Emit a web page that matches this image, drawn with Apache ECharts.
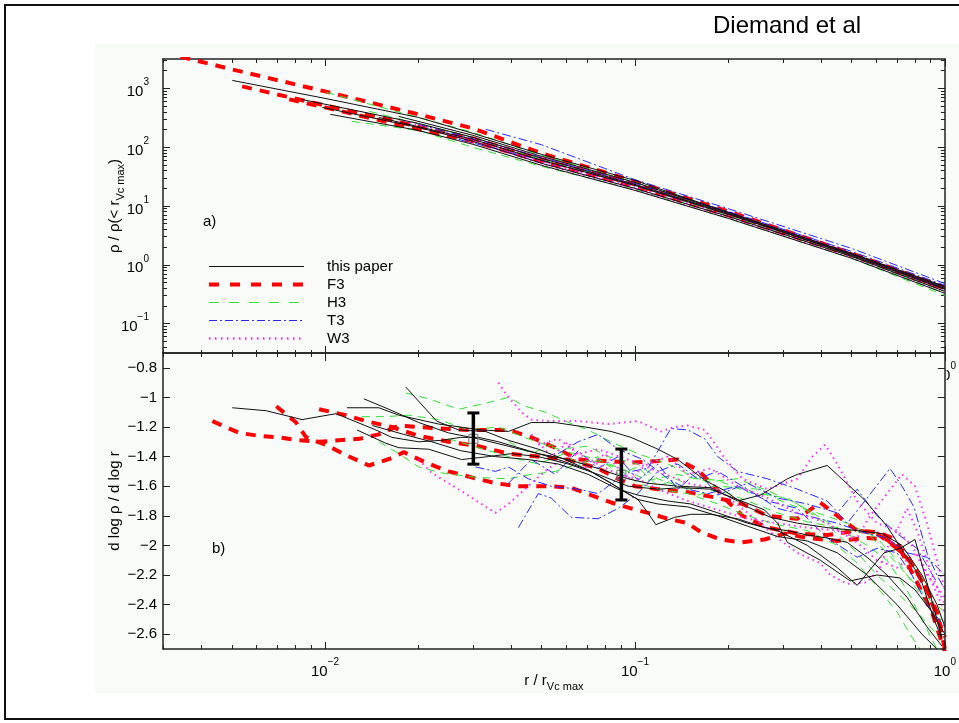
<!DOCTYPE html>
<html>
<head>
<meta charset="utf-8">
<script src="https://cdn.jsdelivr.net/npm/echarts@6/dist/echarts.min.js"></script>
<style>
  html, body { margin: 0; padding: 0; background: #ffffff; }
  #chart { width: 959px; height: 723px; }
</style>
</head>
<body>
<div id="chart"></div>
<script>
// ---- tick values ----
const xMajorTicks = [0.01, 0.1, 1];
const xMinorTicks = [0.003, 0.004, 0.005, 0.006, 0.007, 0.008, 0.009,
  0.02, 0.03, 0.04, 0.05, 0.06, 0.07, 0.08, 0.09,
  0.2, 0.3, 0.4, 0.5, 0.6, 0.7, 0.8, 0.9];
const rhoMajorTicks = [0.1, 1, 10, 100, 1000];
const rhoMinorTicks = [0.04, 0.05, 0.06, 0.07, 0.08, 0.09,
  0.2, 0.3, 0.4, 0.5, 0.6, 0.7, 0.8, 0.9,
  2, 3, 4, 5, 6, 7, 8, 9,
  20, 30, 40, 50, 60, 70, 80, 90,
  200, 300, 400, 500, 600, 700, 800, 900,
  2000, 3000];
const slopeTicks = [-2.6, -2.4, -2.2, -2, -1.8, -1.6, -1.4, -1.2, -1, -0.8];

const legendNames = ['this paper', 'F3', 'H3', 'T3', 'W3'];

// ---- panel a): density profiles, [r / r_Vcmax, rho / rho(<r_Vcmax)] ----
const densityThisPaper = [
  [[0.00502, 1368], [0.01, 676], [0.02, 321], [0.03, 172], [0.05, 75.5], [0.1, 27.2], [0.2, 7.78], [0.5, 1.56], [1, 0.43]],
  [[0.0098, 475], [0.02, 217], [0.03, 126], [0.05, 53.1], [0.1, 19.9], [0.2, 6.65], [0.5, 1.39], [1, 0.353]],
  [[0.0104, 362], [0.02, 193], [0.03, 112], [0.05, 49.1], [0.1, 18.4], [0.2, 6.15], [0.5, 1.29], [1, 0.327]],
  [[0.0084, 650], [0.02, 254], [0.03, 147], [0.05, 64.6], [0.1, 23.3], [0.2, 7.48], [0.5, 1.45], [1, 0.382]],
  [[0.0149, 321], [0.03, 136], [0.05, 59.7], [0.1, 22.4], [0.2, 7.19], [0.5, 1.5], [1, 0.397]],
  [[0.0173, 334], [0.03, 159], [0.05, 69.8], [0.1, 25.2], [0.2, 7.78], [0.5, 1.56], [1, 0.413]]
];
const densityF3 = [
  [[0.003, 4090], [0.00502, 2100], [0.01, 889], [0.02, 362], [0.03, 209], [0.05, 78.5], [0.1, 26.2], [0.2, 8.09], [0.5, 1.56], [1, 0.413]],
  [[0.0054, 1082], [0.01, 514], [0.02, 226], [0.03, 141], [0.05, 62.1], [0.1, 23.3], [0.2, 7.48], [0.5, 1.5], [1, 0.397]],
  [[0.00766, 650], [0.01, 475], [0.02, 201], [0.03, 126], [0.05, 57.4], [0.1, 21.5], [0.2, 6.92], [0.5, 1.45], [1, 0.382]]
];
const densityH3 = [
  [[0.0101, 855], [0.02, 321], [0.03, 179], [0.05, 72.6], [0.1, 25.2], [0.2, 7.48], [0.5, 1.45], [1, 0.353]],
  [[0.0122, 275], [0.02, 193], [0.03, 99.3], [0.05, 47.2], [0.1, 19.1], [0.2, 6.15], [0.5, 1.29], [1, 0.302]],
  [[0.0139, 407], [0.03, 147], [0.05, 62.1], [0.1, 22.4], [0.2, 6.92], [0.5, 1.39], [1, 0.327]]
];
const densityT3 = [
  [[0.033, 201], [0.05, 110], [0.1, 28], [0.2, 9], [0.5, 1.9], [1, 0.48]],
  [[0.02, 244], [0.03, 141], [0.05, 67.1], [0.1, 24.2], [0.2, 8.09], [0.5, 1.69], [1, 0.447]],
  [[0.027, 136], [0.05, 59.7], [0.1, 22.4], [0.2, 7.48], [0.5, 1.56], [1, 0.413]]
];
const densityW3 = [
  [[0.0173, 297], [0.03, 126], [0.05, 53.1], [0.1, 19.1], [0.2, 6.4], [0.5, 1.34], [1, 0.353]],
  [[0.025, 165], [0.05, 57.4], [0.1, 20.7], [0.2, 6.92], [0.5, 1.45], [1, 0.382]],
  [[0.029, 147], [0.05, 67.1], [0.1, 23.3], [0.2, 7.78], [0.5, 1.56], [1, 0.397]]
];

// ---- panel b): logarithmic slopes, [r / r_Vcmax, d log rho / d log r] ----
const slopeThisPaper = [
  [[0.00502, -1.07], [0.00646, -1.09], [0.00843, -1.15], [0.01085, -1.11], [0.01459, -1.22], [0.01642, -1.27], [0.02006, -1.30], [0.02378, -1.29], [0.02738, -1.27], [0.03128, -1.27], [0.03627, -1.30], [0.04529, -1.36], [0.05655, -1.42], [0.07063, -1.49], [0.08373, -1.58], [0.1022, -1.69], [0.1101, -1.78], [0.1168, -1.86], [0.1344, -1.81], [0.1514, -1.79], [0.1755, -1.79], [0.2144, -1.82], [0.2618, -1.88], [0.3104, -1.90], [0.3599, -1.93], [0.4174, -1.95], [0.4841, -1.98], [0.5612, -2.08], [0.6506, -2.20], [0.7547, -2.35], [0.8753, -2.55], [0.9781, -2.68]],
  [[0.01822, -0.93], [0.02291, -1.16], [0.02698, -1.22], [0.03294, -1.23], [0.03905, -1.29], [0.04877, -1.35], [0.05955, -1.42], [0.07063, -1.49], [0.08373, -1.58], [0.09286, -1.64], [0.1022, -1.69], [0.1186, -1.72], [0.1481, -1.74], [0.1849, -1.80], [0.2309, -1.87], [0.2884, -1.94], [0.3599, -1.97], [0.4495, -2.05], [0.5612, -2.20], [0.7008, -2.40], [0.8433, -2.60], [0.9425, -2.70]],
  [[0.01177, -1.07], [0.01492, -1.07], [0.0173, -1.12], [0.02326, -1.18], [0.03198, -1.22], [0.03905, -1.23], [0.0463, -1.17], [0.05532, -1.17], [0.06907, -1.20], [0.08373, -1.23], [0.09708, -1.27], [0.1186, -1.35], [0.1375, -1.42], [0.168, -1.56], [0.1947, -1.63], [0.2309, -1.74], [0.2737, -1.81], [0.3343, -1.85], [0.4174, -1.88], [0.5212, -1.90], [0.6271, -1.92], [0.7272, -2.00], [0.8433, -2.20], [0.9425, -2.40], [1, -2.55]],
  [[0.01335, -1.01], [0.01606, -1.08], [0.02006, -1.17], [0.02505, -1.24], [0.03128, -1.28], [0.03905, -1.33], [0.04877, -1.38], [0.0609, -1.42], [0.07604, -1.48], [0.09495, -1.55], [0.1101, -1.58], [0.1375, -1.60], [0.1755, -1.61], [0.2144, -1.70], [0.2542, -1.66], [0.3104, -1.55], [0.3343, -1.52], [0.4174, -1.46], [0.549, -1.69], [0.6506, -1.87], [0.7381, -2.05], [0.831, -2.21], [0.9218, -2.50], [0.9781, -2.63]],
  [[0.01268, -1.22], [0.01571, -1.31], [0.0173, -1.34], [0.0216, -1.35], [0.02758, -1.42], [0.03367, -1.40], [0.03993, -1.38], [0.04877, -1.40], [0.0609, -1.45], [0.07604, -1.52], [0.09495, -1.60], [0.1186, -1.62], [0.1405, -1.61], [0.1755, -1.62], [0.2144, -1.69], [0.2618, -1.76], [0.2884, -1.85], [0.3104, -1.98], [0.3963, -2.10], [0.4949, -2.24], [0.6043, -2.20], [0.7165, -2.22], [0.8008, -2.30], [0.9083, -2.45], [1, -2.60]],
  [[0.0142, -1.19], [0.01795, -1.25], [0.02208, -1.30], [0.02738, -1.36], [0.03547, -1.40], [0.04529, -1.42], [0.05655, -1.45], [0.07063, -1.52], [0.08817, -1.62], [0.1022, -1.66], [0.1276, -1.70], [0.1514, -1.72], [0.1849, -1.78], [0.2309, -1.85], [0.2884, -1.90], [0.3599, -2.00], [0.4495, -2.15], [0.5212, -2.27], [0.6364, -2.05], [0.7165, -2.02], [0.8008, -1.96], [0.8753, -2.25], [0.9425, -2.50], [0.9781, -2.62]]
];
const slopeF3 = [
  [[0.00433, -1.16], [0.00529, -1.24], [0.00613, -1.26], [0.00712, -1.27], [0.00825, -1.29], [0.00957, -1.30], [0.0111, -1.29], [0.0129, -1.28], [0.0149, -1.25], [0.0173, -1.19], [0.0233, -1.21], [0.029, -1.22], [0.0391, -1.22], [0.0463, -1.27], [0.0553, -1.34], [0.0656, -1.42], [0.0801, -1.43], [0.0971, -1.44], [0.1186, -1.43], [0.1375, -1.42], [0.1595, -1.49], [0.1781, -1.59], [0.1962, -1.69], [0.2225, -1.80], [0.2677, -1.88], [0.3343, -1.92], [0.4174, -1.93], [0.5212, -1.90], [0.6043, -1.92], [0.7008, -2.02], [0.7832, -2.12], [0.8753, -2.30], [1, -2.62]],
  [[0.00957, -1.08], [0.01168, -1.12], [0.01355, -1.16], [0.01642, -1.20], [0.02006, -1.26], [0.02505, -1.30], [0.03128, -1.33], [0.03905, -1.38], [0.04877, -1.40], [0.0609, -1.42], [0.07604, -1.48], [0.08817, -1.55], [0.1, -1.60], [0.1186, -1.62], [0.1481, -1.64], [0.1849, -1.68], [0.2225, -1.72], [0.2677, -1.80], [0.3343, -1.82], [0.3963, -1.71], [0.4495, -1.80], [0.5212, -1.90], [0.6043, -1.91], [0.6754, -1.95], [0.7272, -2.03], [0.7949, -2.15], [0.8753, -2.30], [0.9425, -2.45], [1, -2.70]],
  [[0.00696, -1.06], [0.00807, -1.17], [0.00869, -1.27], [0.01007, -1.32], [0.01168, -1.39], [0.01385, -1.46], [0.01642, -1.41], [0.01795, -1.37], [0.02113, -1.44], [0.02505, -1.50], [0.0297, -1.54], [0.03547, -1.58], [0.04205, -1.60], [0.05252, -1.60], [0.06226, -1.61], [0.07222, -1.66], [0.08373, -1.71], [0.09708, -1.75], [0.1101, -1.78], [0.1277, -1.82], [0.1481, -1.85], [0.163, -1.91], [0.189, -1.96], [0.2192, -1.98], [0.2618, -1.96], [0.3036, -1.92], [0.3599, -1.95], [0.4495, -1.97], [0.5612, -1.95], [0.6506, -1.96], [0.7272, -2.05], [0.8128, -2.25], [0.9083, -2.45], [1, -2.72]]
];
const slopeH3 = [
  [[0.01822, -0.97], [0.0216, -1.01], [0.02698, -1.08], [0.03294, -1.04], [0.03905, -1.00], [0.04429, -1.06], [0.05136, -1.10], [0.05955, -1.16], [0.07063, -1.22], [0.08373, -1.30], [0.1022, -1.38], [0.1277, -1.45], [0.1595, -1.55], [0.1849, -1.56], [0.2309, -1.64], [0.3104, -1.68], [0.3877, -1.80], [0.4841, -1.92], [0.5612, -2.00], [0.6506, -2.10], [0.7547, -2.30], [0.8433, -2.50], [0.9425, -2.70]],
  [[0.01492, -1.30], [0.0173, -1.38], [0.02006, -1.47], [0.02378, -1.51], [0.03059, -1.54], [0.03905, -1.55], [0.0463, -1.52], [0.05532, -1.50], [0.06557, -1.45], [0.07604, -1.43], [0.08817, -1.48], [0.1022, -1.58], [0.1186, -1.62], [0.1481, -1.65], [0.1849, -1.72], [0.2309, -1.80], [0.2884, -1.86], [0.3599, -1.90], [0.4495, -2.00], [0.5212, -2.12], [0.6043, -2.28], [0.7008, -2.45], [0.7832, -2.62], [0.8433, -2.72]],
  [[0.01315, -1.13], [0.01571, -1.13], [0.01862, -1.12], [0.02326, -1.15], [0.02904, -1.22], [0.03627, -1.20], [0.04529, -1.28], [0.05655, -1.35], [0.07063, -1.33], [0.08189, -1.40], [0.1022, -1.45], [0.1186, -1.55], [0.1481, -1.62], [0.1849, -1.60], [0.2486, -1.62], [0.3104, -1.72], [0.3877, -1.78], [0.4841, -1.85], [0.6043, -1.95], [0.7008, -2.10], [0.8128, -2.30], [0.9083, -2.45], [1, -2.52]],
  [[0.02505, -1.28], [0.03128, -1.34], [0.03905, -1.40], [0.04877, -1.45], [0.0609, -1.37], [0.07604, -1.42], [0.09495, -1.50], [0.1101, -1.56], [0.1375, -1.52], [0.1717, -1.57], [0.2144, -1.55], [0.2677, -1.63], [0.3343, -1.72], [0.4174, -1.86], [0.5212, -2.05], [0.6043, -2.20], [0.7008, -2.32], [0.8128, -2.45], [0.9425, -2.60]],
  [[0.0391, -1.30], [0.0463, -1.38], [0.0537, -1.32], [0.0656, -1.45], [0.076, -1.40], [0.0882, -1.52], [0.1022, -1.47], [0.1186, -1.60], [0.1375, -1.55], [0.1595, -1.66], [0.1849, -1.62], [0.2309, -1.70], [0.2884, -1.78], [0.3599, -1.84], [0.4495, -1.88], [0.5612, -1.92], [0.6506, -2.05], [0.7547, -2.20], [0.8753, -2.35], [1, -2.45]]
];
const slopeT3 = [
  [[0.03059, -1.47], [0.03547, -1.50], [0.03905, -1.47], [0.04529, -1.55], [0.0537, -1.60], [0.06557, -1.62], [0.07604, -1.65], [0.08817, -1.55], [0.09708, -1.50], [0.1101, -1.48], [0.1305, -1.21], [0.1481, -1.22], [0.168, -1.28], [0.1849, -1.40], [0.2144, -1.50], [0.2677, -1.55], [0.3343, -1.62], [0.4174, -1.70], [0.4841, -1.85], [0.5612, -1.68], [0.6652, -1.48], [0.7272, -1.60], [0.7949, -1.74], [0.8753, -2.05], [0.9425, -2.20], [1, -2.30]],
  [[0.04205, -1.88], [0.04877, -1.65], [0.0537, -1.68], [0.06226, -1.81], [0.07604, -1.82], [0.08817, -1.75], [0.1022, -1.65], [0.1186, -1.50], [0.1375, -1.45], [0.1595, -1.55], [0.1849, -1.50], [0.2309, -1.62], [0.2884, -1.75], [0.3599, -1.80], [0.4495, -1.85], [0.5612, -1.92], [0.6506, -1.95], [0.7547, -2.05], [0.8753, -2.08], [1, -2.20]],
  [[0.05655, -1.38], [0.06557, -1.30], [0.07604, -1.25], [0.08817, -1.35], [0.1061, -1.42], [0.1277, -1.55], [0.1481, -1.62], [0.1717, -1.65], [0.2144, -1.60], [0.2677, -1.70], [0.3343, -1.75], [0.4174, -1.95], [0.5212, -2.08], [0.6043, -2.02], [0.7008, -2.05], [0.7832, -2.20], [0.8753, -2.40], [1, -2.55]],
  [[0.0391, -1.58], [0.0463, -1.42], [0.0553, -1.52], [0.0656, -1.36], [0.076, -1.48], [0.0882, -1.40], [0.1022, -1.56], [0.1186, -1.45], [0.1375, -1.62], [0.1595, -1.50], [0.1849, -1.66], [0.2309, -1.58], [0.2884, -1.68], [0.3599, -1.72], [0.4495, -1.78], [0.5212, -1.62], [0.6043, -1.80], [0.7008, -1.92], [0.8128, -2.02], [0.9425, -2.25]]
];
const slopeW3 = [
  [[0.03627, -0.90], [0.03819, -0.97], [0.03993, -1.02], [0.04299, -1.10], [0.0463, -1.15], [0.05252, -1.16], [0.06557, -1.16], [0.08189, -1.18], [0.1022, -1.16], [0.1212, -1.23], [0.1344, -1.20], [0.1481, -1.19], [0.168, -1.22], [0.1781, -1.29], [0.1947, -1.41], [0.2225, -1.55], [0.2677, -1.62], [0.3343, -1.55], [0.3735, -1.40], [0.4112, -1.32], [0.4495, -1.45], [0.5212, -1.70], [0.6043, -1.85], [0.7008, -1.90], [0.7832, -2.00], [0.8753, -2.20], [1, -2.35]],
  [[0.02006, -1.42], [0.02208, -1.51], [0.02505, -1.58], [0.02841, -1.65], [0.03198, -1.72], [0.03547, -1.78], [0.03905, -1.72], [0.04529, -1.60], [0.05252, -1.48], [0.0609, -1.40], [0.07604, -1.35], [0.09495, -1.42], [0.1186, -1.50], [0.1481, -1.58], [0.1849, -1.62], [0.2309, -1.78], [0.2884, -1.95], [0.3343, -2.05], [0.3963, -2.12], [0.4267, -2.20], [0.4841, -2.26], [0.5612, -2.25], [0.618, -2.15], [0.6506, -2.02], [0.7008, -1.90], [0.7547, -1.75], [0.8128, -1.90], [0.9083, -2.20], [1, -2.40]],
  [[0.04877, -1.32], [0.05655, -1.28], [0.06557, -1.38], [0.07604, -1.45], [0.08817, -1.52], [0.1022, -1.55], [0.1186, -1.62], [0.1481, -1.70], [0.1849, -1.76], [0.2309, -1.82], [0.2884, -1.85], [0.3599, -1.88], [0.4495, -1.90], [0.5212, -1.95], [0.5739, -1.80], [0.6506, -1.65], [0.7272, -1.52], [0.8008, -1.60], [0.8753, -1.85], [0.9425, -2.10], [1, -2.30]],
  [[0.0463, -1.25], [0.0537, -1.40], [0.0609, -1.30], [0.07, -1.48], [0.08, -1.38], [0.095, -1.55], [0.1101, -1.45], [0.1276, -1.40], [0.1481, -1.52], [0.1755, -1.48], [0.2144, -1.60], [0.2677, -1.68], [0.3343, -1.78], [0.4174, -1.85], [0.5212, -1.98], [0.6043, -2.10], [0.7008, -2.15], [0.8128, -2.05], [0.9083, -2.25], [1, -2.45]]
];

// scatter of the slope at two radii: [r, mean, upper, lower]
const slopeErrorBars = [
  [0.0301, -1.28, -1.105, -1.451],
  [0.0904, -1.523, -1.349, -1.693]
];

// ---- styling ----
const FONT = 'Liberation Sans, Arial, Helvetica, sans-serif';
const AXIS_COLOR = '#222';
const PANEL_BG = '#f9fbf9';
const lineStyles = {
  'this paper': { color: '#111111', width: 1, type: 'solid' },
  'F3': { color: '#ff0000', width: 4, type: [10, 8] },
  'H3': { color: '#33e033', width: 1, type: [8, 6] },
  'T3': { color: '#2a2aff', width: 1, type: [9, 3, 2, 3] },
  'W3': { color: '#ff2aff', width: 2, type: [1.5, 4] }
};
const legendLineStyles = {
  'this paper': { width: 1, type: 'solid' },
  'F3': { width: 4, type: [10, 11] },
  'H3': { width: 1, type: [10, 10] },
  'T3': { width: 1.2, type: [8, 3, 2, 3] },
  'W3': { width: 2.5, type: [1.5, 4.5] }
};
const drawOrder = ['F3', 'H3', 'T3', 'W3', 'this paper'];
const densityGroups = { 'this paper': densityThisPaper, 'F3': densityF3, 'H3': densityH3, 'T3': densityT3, 'W3': densityW3 };
const slopeGroups = { 'this paper': slopeThisPaper, 'F3': slopeF3, 'H3': slopeH3, 'T3': slopeT3, 'W3': slopeW3 };

const sup = v => {
  const e = Math.round(Math.log10(v));
  return '{b|10}{s|' + (e < 0 ? '\u2212' + (-e) : e) + '}';
};
const powRich = {
  b: { fontFamily: FONT, fontSize: 15, color: '#000', lineHeight: 22, verticalAlign: 'bottom' },
  s: { fontFamily: FONT, fontSize: 10, color: '#000', lineHeight: 22, verticalAlign: 'top' }
};

// log x axis pieces for one panel: major / minor ticks on bottom and top edges
function xAxesFor(grid, bottomLen, topLen, labelValues, z) {
  const base = {
    type: 'log', logBase: 10, gridIndex: grid, min: 0.003, max: 1, z: z,
    splitLine: { show: false }, splitArea: { show: false }
  };
  const mk = (pos, vals, len, line, lab) => Object.assign({}, base, {
    position: pos,
    axisLine: { show: line, onZero: false, lineStyle: { color: AXIS_COLOR, width: 1.5 } },
    axisTick: { show: true, inside: true, length: len, customValues: vals, lineStyle: { color: AXIS_COLOR, width: 1 } },
    axisLabel: lab ? { show: true, customValues: lab, formatter: sup, rich: powRich, margin: 8 } : { show: false }
  });
  return [
    mk('bottom', xMajorTicks, bottomLen[0], true, labelValues),
    mk('bottom', xMinorTicks, bottomLen[1], false, null),
    mk('top', xMajorTicks, topLen[0], true, null),
    mk('top', xMinorTicks, topLen[1], false, null)
  ];
}

const subRich = { sub: { fontFamily: FONT, fontSize: 11, color: '#000', verticalAlign: 'bottom', lineHeight: 22 } };
const xAxes = [].concat(
  xAxesFor(0, [7, 3], [7, 4], [1], 0),
  xAxesFor(1, [7, 4], [8, 4], xMajorTicks, 5)
);
// name of the lower x axis
xAxes[4].name = 'r / r{sub|Vc max}';
xAxes[4].nameLocation = 'middle';
xAxes[4].nameGap = 21;
xAxes[4].nameMoveOverlap = false;
xAxes[4].nameTextStyle = { fontFamily: FONT, fontSize: 15, color: '#000', rich: subRich };

function rhoAxis(pos, vals, len, line, lab) {
  return {
    type: 'log', logBase: 10, gridIndex: 0, position: pos,
    min: 0.0316, max: 3162,
    splitLine: { show: false },
    axisLine: { show: line, onZero: false, lineStyle: { color: AXIS_COLOR, width: 1.5 } },
    axisTick: { show: true, inside: true, length: len, customValues: vals, lineStyle: { color: AXIS_COLOR, width: 1 } },
    axisLabel: lab ? { show: true, customValues: rhoMajorTicks, formatter: sup, rich: powRich, margin: 14 } : { show: false }
  };
}
function slopeAxis(pos, lab) {
  return {
    type: 'value', gridIndex: 1, position: pos, z: 5,
    min: -2.7, max: -0.7,
    splitLine: { show: false },
    axisLine: { show: true, onZero: false, lineStyle: { color: AXIS_COLOR, width: 1.5 } },
    axisTick: { show: true, inside: true, length: 7, customValues: slopeTicks, lineStyle: { color: AXIS_COLOR, width: 1 } },
    axisLabel: lab ? {
      show: true, customValues: slopeTicks, margin: 6,
      fontFamily: FONT, fontSize: 15, color: '#000',
      formatter: v => (v < 0 ? '\u2212' : '') + String(Number(Math.abs(v).toFixed(1)))
    } : { show: false }
  };
}

const yAxes = [
  rhoAxis('left', rhoMajorTicks, 7, true, true),
  rhoAxis('left', rhoMinorTicks, 4, false, false),
  rhoAxis('right', rhoMajorTicks, 7, true, false),
  rhoAxis('right', rhoMinorTicks, 4, false, false),
  slopeAxis('left', true),
  slopeAxis('right', false)
];
yAxes[0].name = '\u03c1 / \u03c1(< r{sub|Vc max})';
yAxes[0].nameLocation = 'middle';
yAxes[0].nameGap = 37;
yAxes[0].nameMoveOverlap = false;
yAxes[0].nameTextStyle = { fontFamily: FONT, fontSize: 15, color: '#000', rich: subRich };
yAxes[4].name = 'd log \u03c1 / d log r';
yAxes[4].nameLocation = 'middle';
yAxes[4].nameGap = 41;
yAxes[4].nameMoveOverlap = false;
yAxes[4].nameTextStyle = { fontFamily: FONT, fontSize: 15, color: '#000' };

// ---- series ----
const series = [];
drawOrder.forEach(name => {
  const st = lineStyles[name];
  densityGroups[name].forEach(line => series.push({
    type: 'line', name: name, xAxisIndex: 0, yAxisIndex: 0, data: line,
    symbol: 'none', showSymbol: false, silent: true, clip: true,
    lineStyle: { color: st.color, width: st.width, type: st.type }, itemStyle: { color: st.color }
  }));
  slopeGroups[name].forEach(line => series.push({
    type: 'line', name: name, xAxisIndex: 4, yAxisIndex: 4, data: line,
    symbol: 'none', showSymbol: false, silent: true, clip: true,
    lineStyle: { color: st.color, width: st.width, type: st.type }, itemStyle: { color: st.color }
  }));
});
series.push({
  type: 'custom', xAxisIndex: 4, yAxisIndex: 4, data: slopeErrorBars, z: 10, silent: true,
  renderItem: (params, api) => {
    const c = api.coord([api.value(0), api.value(1)]);
    const t = api.coord([api.value(0), api.value(2)]);
    const b = api.coord([api.value(0), api.value(3)]);
    const cap = 6;
    return {
      type: 'group',
      children: [
        { type: 'rect', shape: { x: c[0] - 4.5, y: c[1] - 4.5, width: 9, height: 9 },
          style: { fill: 'none', stroke: '#777', lineWidth: 1 } },
        { type: 'line', shape: { x1: t[0], y1: t[1], x2: b[0], y2: b[1] }, style: { stroke: '#000', lineWidth: 3.5 } },
        { type: 'line', shape: { x1: t[0] - cap, y1: t[1], x2: t[0] + cap, y2: t[1] }, style: { stroke: '#000', lineWidth: 3 } },
        { type: 'line', shape: { x1: b[0] - cap, y1: b[1], x2: b[0] + cap, y2: b[1] }, style: { stroke: '#000', lineWidth: 3 } }
      ]
    };
  }
});

const chart = echarts.init(document.getElementById('chart'), null, { renderer: 'canvas' });
chart.setOption({
  animation: false,
  backgroundColor: '#ffffff',
  textStyle: { fontFamily: FONT },
  grid: [
    { left: 163, top: 59, width: 785, height: 294, containLabel: false },
    { left: 163, top: 353, width: 785, height: 296, containLabel: false }
  ],
  xAxis: xAxes,
  yAxis: yAxes,
  legend: {
    data: legendNames.map(n => ({ name: n, lineStyle: legendLineStyles[n] })),
    orient: 'vertical',
    left: 202, top: 254,
    itemWidth: 95, itemHeight: 14, itemGap: 3,
    selectedMode: false,
    itemStyle: { opacity: 0 },
    textStyle: { fontFamily: FONT, fontSize: 15, color: '#000', padding: [0, 0, 0, 18] }
  },
  graphic: [
    { type: 'rect', z: -10, silent: true, shape: { x: 95, y: 44, width: 870, height: 649 }, style: { fill: PANEL_BG } },
    { type: 'rect', z: -9, silent: true, shape: { x: 5, y: 5, width: 960, height: 714 }, style: { fill: 'none', stroke: '#111', lineWidth: 2 } },
    // the lower panel hides the left part of the upper panel's last axis label
    { type: 'rect', z: 1, silent: true, shape: { x: 922, y: 358, width: 24.5, height: 30 }, style: { fill: PANEL_BG } },
    { type: 'text', left: 713, top: 14, style: { text: 'Diemand et al', fontFamily: FONT, fontSize: 24, fill: '#000' } },
    { type: 'text', left: 203, top: 214, style: { text: 'a)', fontFamily: FONT, fontSize: 15, fill: '#000' } },
    { type: 'text', left: 212, top: 541, style: { text: 'b)', fontFamily: FONT, fontSize: 15, fill: '#000' } }
  ],
  series: series
});
</script>
</body>
</html>
